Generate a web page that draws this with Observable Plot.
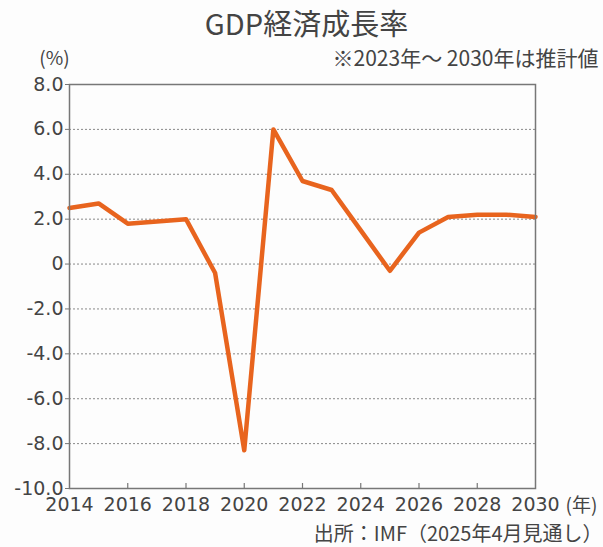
<!DOCTYPE html>
<html><head><meta charset="utf-8">
<script src="https://cdn.jsdelivr.net/npm/d3@7"></script>
<script src="https://cdn.jsdelivr.net/npm/@observablehq/plot@0.6"></script>
<style>body{margin:0;background:#fdfdfd}</style>
</head><body><div id="chart"></div>
<script>
const years = [2014,2015,2016,2017,2018,2019,2020,2021,2022,2023,2024,2025,2026,2027,2028,2029,2030];
const growth = [2.5,2.7,1.8,1.9,2.0,-0.4,-8.3,6.0,3.7,3.3,1.5,-0.3,1.4,2.1,2.2,2.2,2.1];
const yTicks = [8,6,4,2,0,-2,-4,-6,-8,-10];
const xTicks = [2014,2016,2018,2020,2022,2024,2026,2028,2030];
const title = "GDP経済成長率";
const subtitle = "※2023年～ 2030年は推計値";
const yUnit = "(%)";
const xUnit = "(年)";
const caption = "出所：IMF（2025年4月見通し）";

const data = years.map((year, i) => ({year, value: growth[i]}));
const fmtY = d => d === 0 ? "0" : d.toFixed(1);
const jp = "'Noto Sans CJK JP', sans-serif";
const txt = "#444";

const plot = Plot.plot({
  width: 603, height: 547,
  marginTop: 84, marginLeft: 69, marginRight: 68, marginBottom: 59,
  style: {fontFamily: "'DejaVu Sans', sans-serif", fontSize: "19px", color: txt, background: "transparent"},
  x: {domain: [2014, 2030]},
  y: {domain: [-10, 8]},
  marks: [
    Plot.gridY(yTicks.filter(d => d > -10 && d < 8), {stroke: "#888", strokeOpacity: 1, strokeDasharray: "2,2", strokeWidth: 1}),
    Plot.axisY(yTicks, {tickFormat: fmtY, tickSize: 4, tickPadding: 2, label: null, fontSize: 19, stroke: "#777"}),
    Plot.axisX(xTicks, {tickFormat: d => String(d), tickSize: 0, tickPadding: 9, label: null, fontSize: 19}),
    Plot.ruleX(xTicks.slice(1, -1), {x: d => d, insetTop: 399, stroke: "#777", strokeWidth: 1.2}),
    Plot.line(data, {x: "year", y: "value", stroke: "#e8641e", strokeWidth: 4.5, strokeLinejoin: "round"}),
    Plot.frame({stroke: "#777", strokeWidth: 1.5}),
    Plot.text([title], {text: d => d, frameAnchor: "top", textAnchor: "middle", lineAnchor: "middle", dx: 4, dy: -59, fontSize: 29, fontFamily: jp, fill: txt}),
    Plot.text([subtitle], {text: d => d, frameAnchor: "top-right", textAnchor: "end", lineAnchor: "middle", dx: 63, dy: -25, fontSize: 21, fontFamily: jp, fill: txt}),
    Plot.text([yUnit], {text: d => d, frameAnchor: "top-left", textAnchor: "middle", lineAnchor: "middle", dx: -15, dy: -26, fontSize: 19, fontFamily: jp, fill: txt}),
    Plot.text([xUnit], {text: d => d, frameAnchor: "bottom-right", textAnchor: "middle", lineAnchor: "middle", dx: 46, dy: 17, fontSize: 19, fontFamily: jp, fill: txt}),
    Plot.text([caption], {text: d => d, frameAnchor: "bottom-right", textAnchor: "end", lineAnchor: "middle", dx: 67, dy: 46, fontSize: 20, fontFamily: jp, fill: txt})
  ]
});
document.getElementById("chart").appendChild(plot);
</script>
</body></html>
